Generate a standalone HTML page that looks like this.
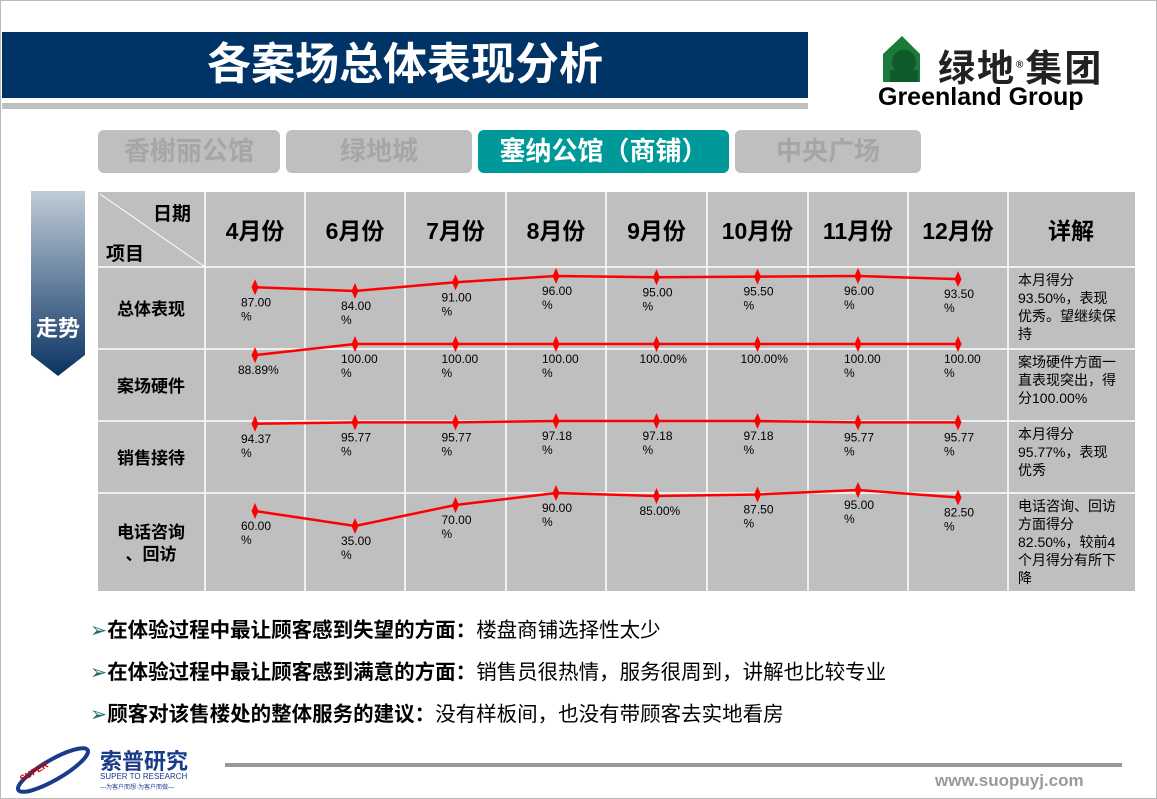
<!DOCTYPE html>
<html><head><meta charset="utf-8">
<style>
body{margin:0;width:1157px;height:799px;background:#fff;position:relative;overflow:hidden;font-family:"Liberation Sans","Noto Sans CJK SC",sans-serif}
.abs{position:absolute}
.tab{position:absolute;top:130px;height:43px;border-radius:6px;background:#bfbfbf;color:#a6a6a6;font-weight:bold;font-size:26px;text-align:center;line-height:43px}
.bl{position:absolute;left:90px;font-size:20.5px;color:#000}
.bl b{font-weight:bold}
</style></head><body>
<div class="abs" style="left:0;top:0;width:1155px;height:797px;border:1px solid #bbb"></div>
<div class="abs" style="left:2px;top:32px;width:806px;height:66px;background:#003366;color:#fff;font-size:44px;font-weight:bold;text-align:center;line-height:66px">各案场总体表现分析</div>
<div class="abs" style="left:2px;top:103px;width:806px;height:6px;background:#c0c0c0"></div>
<div class="abs" style="left:878px;top:36px;width:230px;height:76px">
  <svg width="60" height="50" style="position:absolute;left:2px;top:0"><polygon points="3,46 3,18 22,0 40,18 40,46" fill="#1a7a3a"/><circle cx="24" cy="26" r="12" fill="#0e5a2a"/><rect x="10" y="34" width="28" height="12" fill="#0e5a2a"/></svg>
  <div class="abs" style="left:60px;top:2px;font-size:37px;font-weight:bold;color:#222;letter-spacing:2px">绿地<sup style="font-size:10px">®</sup>集团</div>
  <div class="abs" style="left:0;top:47px;font-size:25px;font-weight:bold;color:#000">Greenland Group</div>
</div>
<div class="tab" style="left:98px;width:182px">香榭丽公馆</div>
<div class="tab" style="left:286px;width:186px">绿地城</div>
<div class="tab" style="left:478px;width:251px;background:#009999;color:#fff">塞纳公馆（商铺）</div>
<div class="tab" style="left:735px;width:186px">中央广场</div>
<svg class="abs" style="left:31px;top:191px" width="54" height="186">
<defs><linearGradient id="g" x1="0" y1="0" x2="0" y2="1"><stop offset="0" stop-color="#c0ccd8"/><stop offset="1" stop-color="#0a3362"/></linearGradient></defs>
<polygon points="0,0 54,0 54,164 27,185 0,164" fill="url(#g)"/>
<text x="27" y="145" font-size="22" font-weight="bold" fill="#fff" text-anchor="middle" font-family="Liberation Sans,Noto Sans CJK SC,sans-serif">走势</text>
</svg>
<svg id="chart" class="abs" style="left:0;top:0" width="1157" height="600" font-family="Liberation Sans,Noto Sans CJK SC,sans-serif"></svg>
<div class="bl" style="top:613px"><span style="color:#1a6a6a">➢</span><b>在体验过程中最让顾客感到失望的方面：</b>楼盘商铺选择性太少</div>
<div class="bl" style="top:655px"><span style="color:#1a6a6a">➢</span><b>在体验过程中最让顾客感到满意的方面：</b>销售员很热情，服务很周到，讲解也比较专业</div>
<div class="bl" style="top:697px"><span style="color:#1a6a6a">➢</span><b>顾客对该售楼处的整体服务的建议：</b>没有样板间，也没有带顾客去实地看房</div>
<div class="abs" style="left:8px;top:742px;width:200px;height:52px">
  <svg width="90" height="52" style="position:absolute;left:0;top:0"><ellipse cx="45" cy="28" rx="40" ry="10" fill="none" stroke="#1a3b8a" stroke-width="4" transform="rotate(-30 45 28)"/><text x="14" y="40" font-size="9" fill="#c00" font-weight="bold" transform="rotate(-30 14 40)">SUPER</text></svg>
  <div class="abs" style="left:92px;top:2px;font-size:22px;font-weight:bold;color:#1a3b8a">索普研究</div>
  <div class="abs" style="left:92px;top:30px;font-size:8px;color:#1a3b8a">SUPER TO RESEARCH</div>
  <div class="abs" style="left:92px;top:40px;font-size:6px;color:#1a3b8a">—为客户而想·为客户而做—</div>
</div>
<div class="abs" style="left:225px;top:763px;width:897px;height:4px;background:#999"></div>
<div class="abs" style="left:935px;top:771px;font-size:17px;font-weight:bold;color:#999">www.suopuyj.com</div>
<script>
const months=["4月份","6月份","7月份","8月份","9月份","10月份","11月份","12月份"];
const rowNames=["总体表现","案场硬件","销售接待","电话咨询\n、回访"];
const overall=[87.00,84.00,91.00,96.00,95.00,95.50,96.00,93.50];
const hardware=[88.89,100,100,100,100,100,100,100];
const reception=[94.37,95.77,95.77,97.18,97.18,97.18,95.77,95.77];
const phone=[60.00,35.00,70.00,90.00,85.00,87.50,95.00,82.50];
const labOverall=["87.00\n%","84.00\n%","91.00\n%","96.00\n%","95.00\n%","95.50\n%","96.00\n%","93.50\n%"];
const labHardware=["88.89%","100.00\n%","100.00\n%","100.00\n%","100.00%","100.00%","100.00\n%","100.00\n%"];
const labReception=["94.37\n%","95.77\n%","95.77\n%","97.18\n%","97.18\n%","97.18\n%","95.77\n%","95.77\n%"];
const labPhone=["60.00\n%","35.00\n%","70.00\n%","90.00\n%","85.00%","87.50\n%","95.00\n%","82.50\n%"];
const details=["本月得分\n93.50%，表现\n优秀。望继续保\n持","案场硬件方面一\n直表现突出，得\n分100.00%","本月得分\n95.77%，表现\n优秀","电话咨询、回访\n方面得分\n82.50%，较前4\n个月得分有所下\n降"];
const NS="http://www.w3.org/2000/svg";
const svg=document.getElementById('chart');
const colX=[98,205,305,405,506,606,707,808,908,1008,1135];
const rowY=[192,267,349,421,493,591];
function el(t,a,p){const e=document.createElementNS(NS,t);for(const k in a)e.setAttribute(k,a[k]);(p||svg).appendChild(e);return e;}
const bg=el('rect',{x:98,y:192,width:1037,height:399,fill:'#bfbfbf'});


colX.slice(1,-1).forEach(x=>{el('line',{x1:x,y1:192,x2:x,y2:591,stroke:'#fff','stroke-width':1.5});});
rowY.slice(1,-1).forEach(y=>{el('line',{x1:98,y1:y,x2:1135,y2:y,stroke:'#fff','stroke-width':1.5});});
el('line',{x1:100,y1:194,x2:205,y2:267,stroke:'#fff','stroke-width':1});
function txt(s,x,y,size,bold,anchor,lh){const t=el('text',{x:x,y:y,'font-size':size,'font-weight':bold?'bold':'normal','text-anchor':anchor||'start',fill:'#000'});s.split('\n').forEach((l,i)=>{const sp=el('tspan',{x:x,dy:i?lh:0},t);sp.textContent=l;});return t;}
let h=txt('日期',172,220,19,true,'middle');
h=txt('项目',125,260,19,true,'middle');
const cx=i=>(colX[i+1]+colX[i+2])/2;
months.forEach((m,i)=>{const t=txt(m,cx(i),239,23,true,'middle');});
h=txt('详解',1071,239,23,true,'middle');
rowNames.forEach((n,r)=>{const lines=n.split('\n');const mid=(rowY[r+1]+rowY[r+2])/2;const t=txt(n,151,mid+7-(lines.length-1)*11,17,true,'middle',22);});
const scales=[
 v=>276+(96-v)*1.25,
 v=>344+(100-v)*1.0,
 v=>421+(97.18-v)*1.0,
 v=>493+(90-v)*0.6
];
const series=[overall,hardware,reception,phone];
const labels=[labOverall,labHardware,labReception,labPhone];
series.forEach((vals,r)=>{
  const pts=vals.map((v,i)=>[cx(i),scales[r](v)]);
  const pl=el('polyline',{points:pts.map(p=>p.join(',')).join(' '),fill:'none',stroke:'#ff0000','stroke-width':2.5});
  
  
  pts.forEach((p,i)=>{
    const d=el('polygon',{points:`${p[0]},${p[1]-8} ${p[0]+3.5},${p[1]} ${p[0]},${p[1]+8} ${p[0]-3.5},${p[1]}`,fill:'#ff0000'});
    
    
    const lab=labels[r][i];
    const single=lab.indexOf('\n')<0;
    const lx=single?p[0]-17:p[0]-14-(lab.length>8?3:0);
    const t=txt(lab,lx,p[1]+19,12,false,'start',14);
    
    
  });
});
details.forEach((d,r)=>{const t=txt(d,1018,rowY[r+1]+18,14,false,'start',18);});
</script>
</body></html>
